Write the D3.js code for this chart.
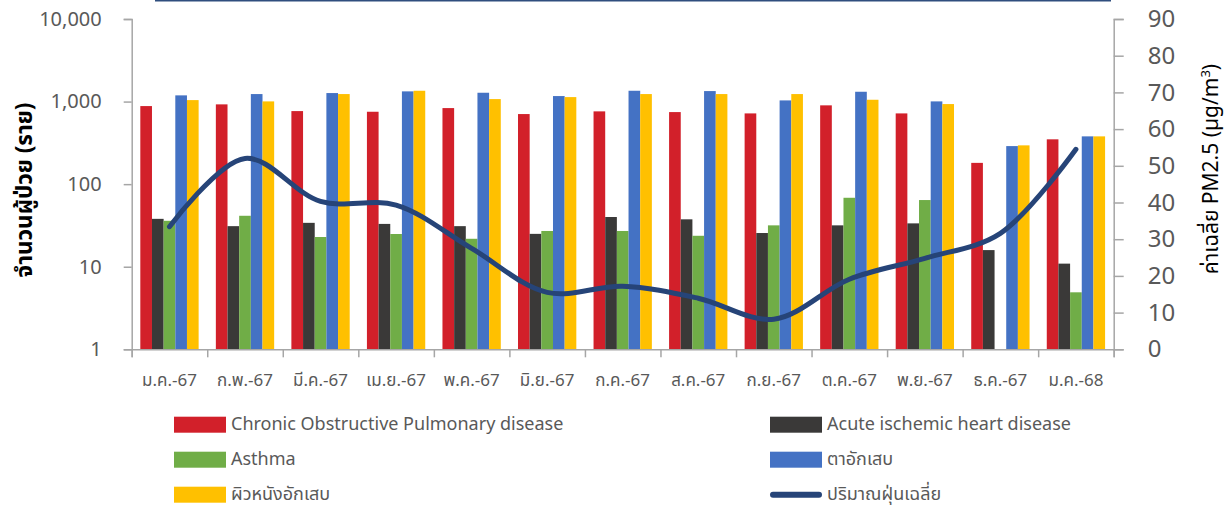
<!DOCTYPE html>
<html><head><meta charset="utf-8">
<script src="https://cdn.jsdelivr.net/npm/d3@7/dist/d3.min.js"></script>
<style>
html,body{margin:0;padding:0;background:#fff;}
svg{display:block;}
text{font-family:"Noto Sans Thai","Noto Sans","DejaVu Sans",sans-serif;}
</style></head>
<body>
<svg id="c" width="1227" height="507"></svg>
<script>
const categories = ["ม.ค.-67","ก.พ.-67","มี.ค.-67","เม.ย.-67","พ.ค.-67","มิ.ย.-67","ก.ค.-67","ส.ค.-67","ก.ย.-67","ต.ค.-67","พ.ย.-67","ธ.ค.-67","ม.ค.-68"];
const copd    = [882, 925, 767, 753, 834, 706, 761, 746, 719, 900, 719, 181, 349];
const heart   = [38, 31, 34, 33, 31, 25, 40, 37.5, 25.6, 31.7, 33.5, 15.9, 10.9];
const asthma  = [36, 41.4, 22.9, 24.9, 21.8, 27.1, 27.1, 23.7, 31.7, 68.4, 64.2, null, 4.9];
const eye     = [1189, 1233, 1268, 1329, 1279, 1166, 1352, 1340, 1033, 1315, 1005, 289, 379];
const skin    = [1042, 1005, 1233, 1352, 1072, 1133, 1233, 1233, 1233, 1052, 933, 295, 379];
const pm25    = [33.4, 52, 40.3, 39.3, 27.5, 15.5, 17.2, 13.9, 8.2, 19.1, 24.8, 31.6, 54.5];
const leftTicks  = [1, 10, 100, 1000, 10000];
const rightTicks = [0, 10, 20, 30, 40, 50, 60, 70, 80, 90];
const seriesNames  = ["Chronic Obstructive Pulmonary disease","Acute ischemic heart disease","Asthma","ตาอักเสบ","ผิวหนังอักเสบ","ปริมาณฝุ่นเฉลี่ย"];
const seriesColors = ["#D2202A","#3A3938","#70AD47","#4472C4","#FFC000","#264478"];

const barSeries = [copd, heart, asthma, eye, skin];
const svg = d3.select("#c");
const L = 131.7, R = 1113.7, T = 19, B = 349.3;
const gray = "#595959", axisCol = "#A6A6A6";

// title box bottom edge
svg.append("line").attr("x1",155).attr("x2",1111).attr("y1",0.5).attr("y2",0.5)
  .attr("stroke","#2F4E7E").attr("stroke-width",2.2);

const x = d3.scaleBand().domain(categories).range([L,R]).paddingInner(0.228).paddingOuter(0.114);
const xs = d3.scaleBand().domain(d3.range(5)).range([0,x.bandwidth()]);
const y = d3.scaleLog().domain([1,10000]).range([B,T]);
const y2 = d3.scaleLinear().domain([0,90]).range([B,T]);

// bars
barSeries.forEach((s,i)=>{
  svg.append("g").selectAll("rect").data(categories.map((c,j)=>({c,v:s[j]})).filter(d=>d.v!=null))
    .join("rect")
    .attr("x",d=>x(d.c)+xs(i)).attr("width",xs.bandwidth())
    .attr("y",d=>y(d.v)).attr("height",d=>B-y(d.v))
    .attr("fill",seriesColors[i]);
});

// left axis
const ga = svg.append("g").attr("transform",`translate(${L},0)`)
  .call(d3.axisLeft(y).tickValues(leftTicks).tickFormat(d3.format(",")).tickSize(8).tickPadding(22));
ga.select(".domain").attr("stroke",axisCol).attr("stroke-width",1.5);
ga.selectAll(".tick line").attr("stroke",axisCol).attr("stroke-width",1.5);
ga.selectAll("text").attr("fill",gray).attr("font-size",20).attr("font-family","Roboto, sans-serif");

// right axis
const gr = svg.append("g").attr("transform",`translate(${R},0)`)
  .call(d3.axisRight(y2).tickValues(rightTicks).tickSize(10).tickPadding(24));
gr.select(".domain").attr("stroke",axisCol).attr("stroke-width",1.5);
gr.selectAll(".tick line").attr("stroke",axisCol).attr("stroke-width",1.5);
gr.selectAll("text").attr("fill",gray).attr("font-size",24).attr("font-family","Roboto, sans-serif");

// bottom axis
const xb = d3.scaleLinear().domain([0,categories.length]).range([L,R]);
const gb = svg.append("g").attr("transform",`translate(0,${B})`)
  .call(d3.axisBottom(xb).tickValues(d3.range(categories.length+1)).tickSize(8).tickFormat(""));
gb.select(".domain").attr("stroke",axisCol).attr("stroke-width",1.5);
gb.selectAll(".tick line").attr("stroke",axisCol).attr("stroke-width",1.5);
svg.append("g").selectAll("text").data(categories).join("text")
  .attr("x",d=>x(d)+x.bandwidth()/2).attr("y",386).attr("text-anchor","middle")
  .attr("fill",gray).attr("font-size",17).text(d=>d);

// PM2.5 line
const line = d3.line().x((d,i)=>x(categories[i])+x.bandwidth()/2).y(d=>y2(d)).curve(d3.curveCatmullRom.alpha(0.5));
svg.append("path").attr("d",line(pm25)).attr("fill","none").attr("stroke",seriesColors[5])
  .attr("stroke-width",5).attr("stroke-linecap","round");

// axis titles
svg.append("text").attr("transform","translate(32,190) rotate(-90)").attr("text-anchor","middle")
  .attr("font-size",22.5).attr("font-weight","bold").attr("fill","#000").text("จำนวนผู้ป่วย (ราย)");
const rt = svg.append("text").attr("transform","translate(1218,169) rotate(-90)").attr("text-anchor","middle")
  .attr("font-size",21).attr("fill","#000");
rt.append("tspan").text("ค่าเฉลี่ย PM2.5 (µg/m");
rt.append("tspan").attr("dy",-8).attr("font-size",13).text("3");
rt.append("tspan").attr("dy",8).text(")");

// legend
const legPos = [[174,416.7],[770,416.7],[174,451.7],[770,451.7],[174,486.7],[770,486.7]];
seriesNames.forEach((n,i)=>{
  const [lx,ly] = legPos[i];
  if(i<5){
    svg.append("rect").attr("x",lx).attr("y",ly).attr("width",52).attr("height",16).attr("fill",seriesColors[i]);
  } else {
    svg.append("line").attr("x1",lx+3).attr("x2",lx+49).attr("y1",ly+8).attr("y2",ly+8)
      .attr("stroke",seriesColors[i]).attr("stroke-width",6).attr("stroke-linecap","round");
  }
  svg.append("text").attr("x",lx+57).attr("y",ly+13).attr("font-size",18).attr("fill",gray).text(n);
});
</script>
</body></html>
